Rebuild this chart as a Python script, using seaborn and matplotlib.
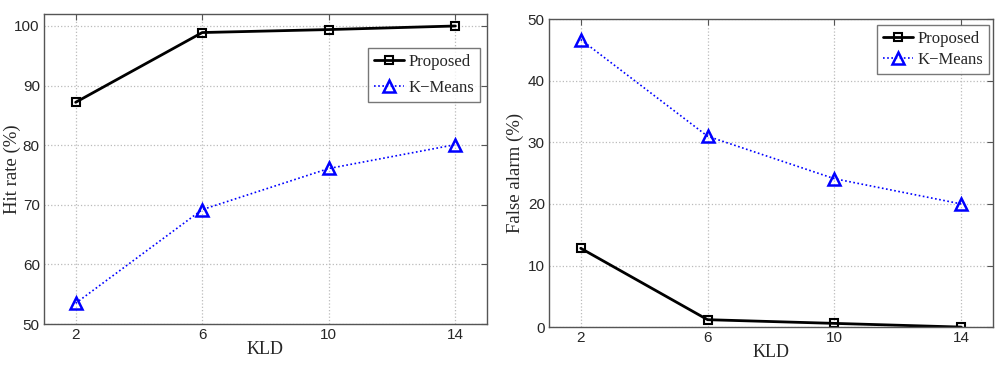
import numpy as np
import pandas as pd
import seaborn as sns
import matplotlib.pyplot as plt

kld = [2, 6, 10, 14]
hit_proposed = [87.2, 98.9, 99.4, 100.0]
hit_kmeans = [53.5, 69.2, 76.1, 80.1]
fa_proposed = [12.8, 1.2, 0.6, 0.0]
fa_kmeans = [46.7, 31.0, 24.1, 20.0]
methods = ["Proposed", "K\u2212Means"]

sns.set_style("white")
plt.rcParams["font.family"] = ["Liberation Sans", "DejaVu Sans"]

fig = plt.figure(figsize=(10, 3.7), dpi=100)
ax1 = fig.add_axes([0.044, 0.124, 0.443, 0.838])
ax2 = fig.add_axes([0.549, 0.116, 0.444, 0.832])

serif = ["Liberation Serif", "DejaVu Serif"]


def panel(ax, prop, km, ylabel, ylim, yticks, legend_anchor, leg_space, label_x):
    sns.lineplot(x=kld, y=prop, ax=ax, color="black", linewidth=2, marker="s",
                 markersize=6, markerfacecolor="none", markeredgecolor="black",
                 markeredgewidth=1.5, label=methods[0])
    sns.lineplot(x=kld, y=km, ax=ax, color="blue", linewidth=1.2, linestyle=(0, (1, 1.5)),
                 marker="^", markersize=8, markerfacecolor="none", markeredgecolor="blue",
                 markeredgewidth=1.8, label=methods[1])
    ax.set_xlim(1, 15)
    ax.set_ylim(*ylim)
    ax.set_xticks(kld)
    ax.set_yticks(yticks)
    ax.tick_params(direction="in", top=True, right=True, labelsize=11, length=4,
                   color="#555555", pad=3)
    ax.grid(True, linestyle=":", color="#bbbbbb", linewidth=0.9)
    for s in ax.spines.values():
        s.set_color("#555555")
        s.set_linewidth(1)
    ax.set_xlabel("KLD", fontsize=13, family=serif, labelpad=-1)
    ax.set_ylabel(ylabel, fontsize=13.5, family=serif)
    ax.yaxis.set_label_coords(label_x, 0.5)
    leg = ax.legend(loc="upper right", bbox_to_anchor=legend_anchor,
                    prop={"family": serif, "size": 12}, frameon=True, fancybox=False,
                    handlelength=1.8, handletextpad=0.3, borderpad=0.35,
                    labelspacing=leg_space, borderaxespad=0)
    leg.get_frame().set_edgecolor("#555555")
    leg.get_frame().set_linewidth(1)


panel(ax1, hit_proposed, hit_kmeans, "Hit rate (%)", (50, 102), range(50, 101, 10),
      (0.985, 0.89), 0.6, -0.052)
panel(ax2, fa_proposed, fa_kmeans, "False alarm (%)", (0, 50), range(0, 51, 10),
      (0.992, 0.98), 0.3, -0.056)

fig.savefig("out.png", dpi=100)
